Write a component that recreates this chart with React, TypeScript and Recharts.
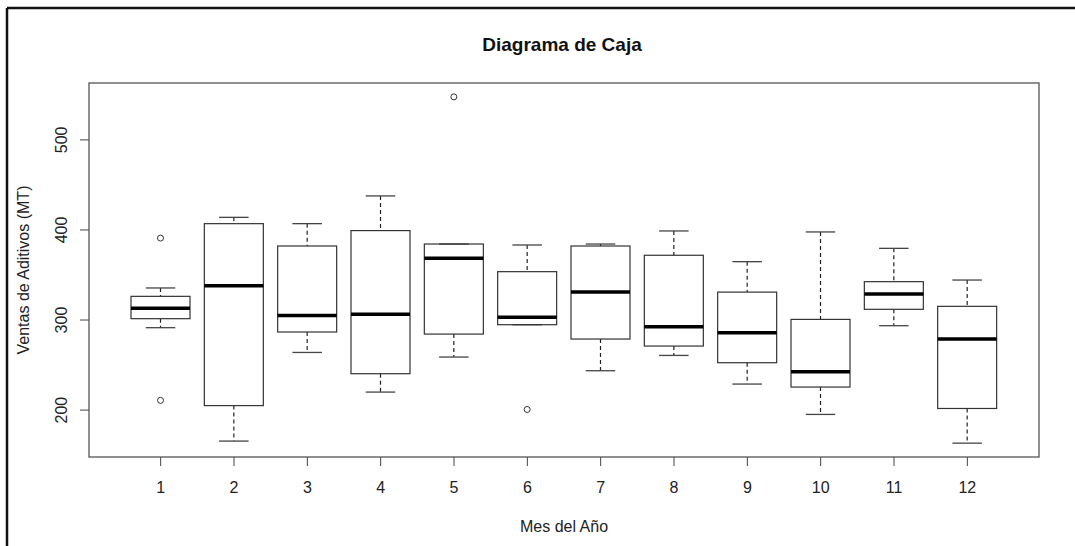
import React from "react";
import { ComposedChart, Bar, XAxis, YAxis } from "recharts";

// values (Ventas de Aditivos por mes)
const months = ["1", "2", "3", "4", "5", "6", "7", "8", "9", "10", "11", "12"];
const lowerWhisker = [291.5, 165.6, 264, 220, 258.9, 294.8, 243.7, 260.7, 228.9, 195.2, 293.7, 163.3];
const q1 = [301.5, 205, 286.7, 240.4, 284.4, 294.8, 278.9, 271.1, 252.6, 225.6, 311.9, 201.8];
const median = [313, 338, 305, 306.3, 368.5, 303, 331, 292.6, 285.9, 242.6, 328.9, 278.9];
const q3 = [326.3, 407, 382.2, 399.3, 384.4, 353.7, 382.2, 371.9, 331, 300.7, 342.6, 315.2];
const upperWhisker = [335.6, 414, 407, 437.8, 384.4, 383.3, 384.4, 398.9, 364.8, 397.8, 379.6, 344.4];
const outliers: number[][] = [[391, 210.8], [], [], [], [547.8], [200.7], [], [], [], [], [], []];
const yTicks = [200, 300, 400, 500];

const FONT = "'Liberation Sans', Arial, sans-serif";
const W = 1075;
const H = 546;
// plot region
const PLOT = { left: 89, top: 83, right: 1039, bottom: 457 };

const table = months.map((m, i) => {
  const pts = [lowerWhisker[i], upperWhisker[i], ...outliers[i]];
  const lo = Math.min(...pts);
  const hi = Math.max(...pts);
  return {
    month: m,
    range: [lo, hi],
    lo,
    hi,
    lw: lowerWhisker[i],
    q1: q1[i],
    med: median[i],
    q3: q3[i],
    uw: upperWhisker[i],
    out: outliers[i],
  };
});

// R pads the data range by 4% on each side
const allVals = table.flatMap((d) => [d.lo, d.hi]);
const dMin = Math.min(...allVals);
const dMax = Math.max(...allVals);
const pad = (dMax - dMin) * 0.04;
const yDomain = [dMin - pad, dMax + pad];

function BoxShape(props: any) {
  const { x, y, width, height } = props;
  const p = props.payload ?? props;
  const top = Math.min(y, y + height);
  const bottom = Math.max(y, y + height);
  const span = p.hi - p.lo;
  // linear scale between the bar ends
  const py = (v: number) => (span === 0 ? top : top + ((p.hi - v) / span) * (bottom - top));
  const cx = x + width / 2;
  const cap = width / 4;
  return (
    <g>
      <line x1={cx} x2={cx} y1={py(p.uw)} y2={py(p.q3)} stroke="#222" strokeWidth={1.2} strokeDasharray="4 3" />
      <line x1={cx} x2={cx} y1={py(p.q1)} y2={py(p.lw)} stroke="#222" strokeWidth={1.2} strokeDasharray="4 3" />
      <line x1={cx - cap} x2={cx + cap} y1={py(p.uw)} y2={py(p.uw)} stroke="#444" strokeWidth={1.3} />
      <line x1={cx - cap} x2={cx + cap} y1={py(p.lw)} y2={py(p.lw)} stroke="#444" strokeWidth={1.3} />
      <rect
        x={x}
        y={py(p.q3)}
        width={width}
        height={py(p.q1) - py(p.q3)}
        fill="none"
        stroke="#333"
        strokeWidth={1.2}
      />
      <line x1={x} x2={x + width} y1={py(p.med)} y2={py(p.med)} stroke="#000" strokeWidth={3.5} />
      {p.out.map((v: number, k: number) => (
        <circle key={k} cx={cx} cy={py(v)} r={3} fill="#fff" stroke="#333" strokeWidth={1} />
      ))}
    </g>
  );
}

function YTick(props: any) {
  const { x, y, payload } = props;
  const bx = x - 13;
  return (
    <text
      x={bx}
      y={y}
      transform={`rotate(-90, ${bx}, ${y})`}
      textAnchor="middle"
      fontSize={16}
      fontFamily={FONT}
      fill="#222"
    >
      {payload.value}
    </text>
  );
}

export default function App() {
  return (
    <div style={{ position: "relative", width: W, height: H, background: "#fff" }}>
      <style>{`body{margin:0;background:#fff}`}</style>
      <ComposedChart
        width={W}
        height={H}
        data={table}
        margin={{ top: PLOT.top, right: W - PLOT.right, bottom: 0, left: 0 }}
      >
        <XAxis
          dataKey="month"
          type="category"
          height={H - PLOT.bottom}
          padding={{ left: 35, right: 35 }}
          axisLine={false}
          tickLine={{ stroke: "#444" }}
          tickSize={9}
          tickMargin={16}
          interval={0}
          tick={{ fontSize: 16, fontFamily: FONT, fill: "#222" }}
        />
        <YAxis
          type="number"
          domain={yDomain}
          ticks={yTicks}
          width={PLOT.left}
          axisLine={false}
          tickLine={{ stroke: "#444" }}
          tickSize={9}
          tickMargin={0}
          tick={<YTick />}
          allowDataOverflow
        />
        <Bar dataKey="range" barSize={59} shape={<BoxShape />} isAnimationActive={false} />
      </ComposedChart>
      <svg
        width={W}
        height={H}
        style={{ position: "absolute", left: 0, top: 0, pointerEvents: "none" }}
      >
        <line x1={7} y1={8} x2={W} y2={8} stroke="#111" strokeWidth={2.5} />
        <line x1={7} y1={8} x2={7} y2={H} stroke="#111" strokeWidth={2.5} />
        <rect
          x={PLOT.left}
          y={PLOT.top}
          width={PLOT.right - PLOT.left}
          height={PLOT.bottom - PLOT.top}
          fill="none"
          stroke="#555"
          strokeWidth={1.3}
        />
        <text x={562} y={51} textAnchor="middle" fontSize={19} fontWeight="bold" fontFamily={FONT} fill="#111">
          Diagrama de Caja
        </text>
        <text x={564} y={532} textAnchor="middle" fontSize={16} fontFamily={FONT} fill="#222">
          Mes del Año
        </text>
        <text
          x={29}
          y={270}
          transform="rotate(-90, 29, 270)"
          textAnchor="middle"
          fontSize={16}
          fontFamily={FONT}
          fill="#222"
        >
          Ventas de Aditivos (MT)
        </text>
      </svg>
    </div>
  );
}
